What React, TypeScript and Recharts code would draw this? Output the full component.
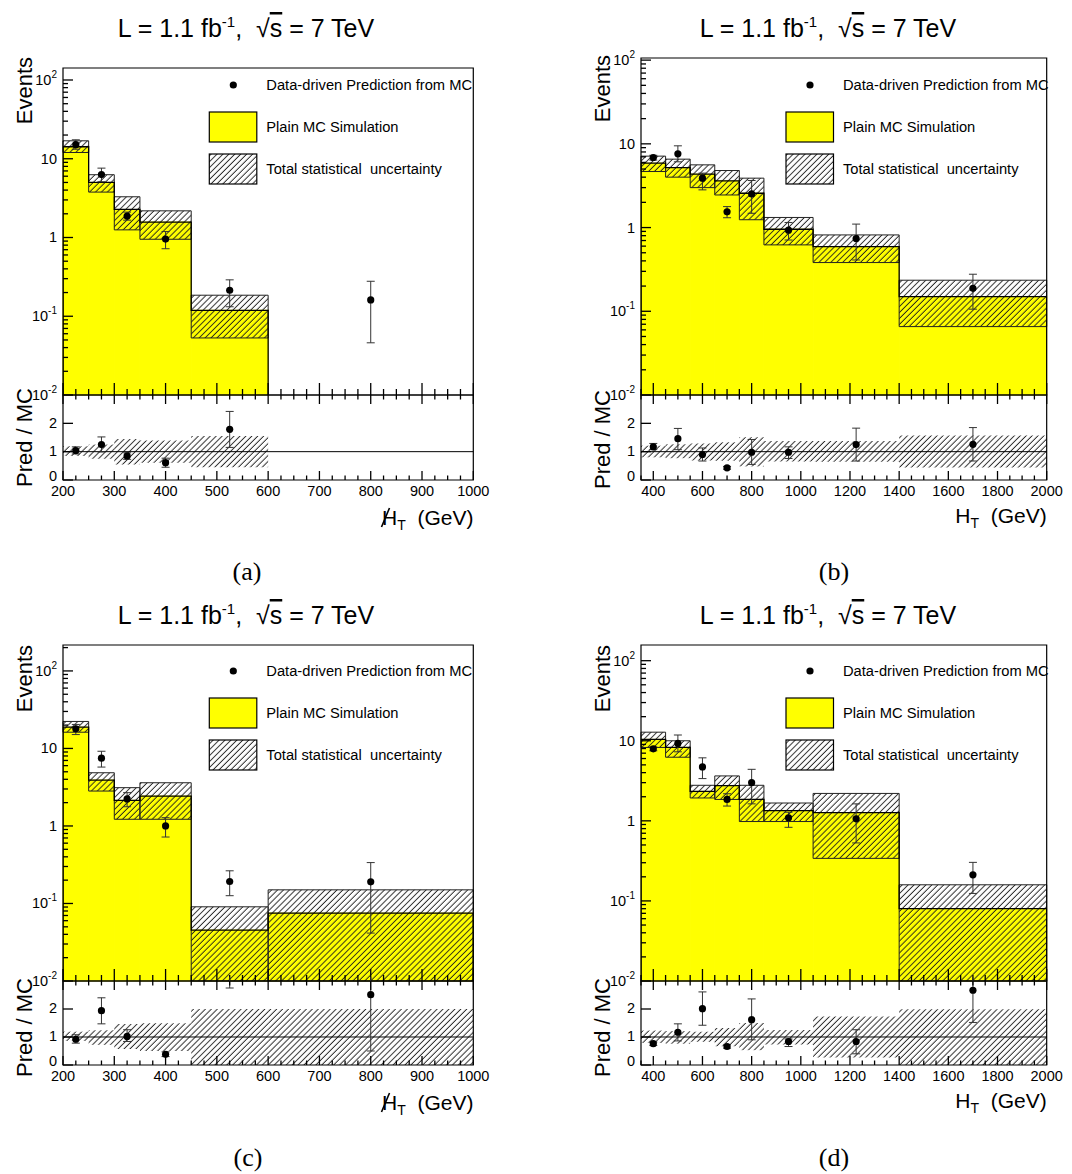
import React from 'react'
import {
  ComposedChart, XAxis, YAxis, Line, Scatter, ErrorBar, ReferenceArea, ReferenceLine,
} from 'recharts'

const FONT = '"Liberation Sans", Arial, Helvetica, sans-serif'
const SERIF = '"Liberation Serif", "DejaVu Serif", serif'
const YELLOW = '#ffff00'
const Y_MIN = 0.01
const Y_AXIS_W = 60
const RIGHT_PAD = 30

// ---------- (a) missing HT, low-HT selection ----------
const aEdges = [200, 250, 300, 350, 450, 600]
const aMC = [14.2, 5.0, 2.27, 1.57, 0.119]
const aLo = [12.0, 3.77, 1.25, 0.95, 0.053]
const aHi = [16.9, 6.27, 3.29, 2.18, 0.185]
const aPredX = [225, 275, 325, 400, 525, 800]
const aPred = [15.1, 6.3, 1.87, 0.955, 0.214, 0.161]
const aPredLo = [13.2, 5.1, 1.66, 0.72, 0.132, 0.046]
const aPredHi = [17.4, 7.6, 2.1, 1.19, 0.29, 0.278]
const aRatioX = [225, 275, 325, 400, 525]
const aRatio = [1.04, 1.25, 0.85, 0.61, 1.79]
const aRatioLo = [0.92, 0.99, 0.73, 0.45, 1.15]
const aRatioHi = [1.17, 1.52, 0.96, 0.77, 2.42]
const aBandLo = [0.85, 0.75, 0.55, 0.61, 0.45]
const aBandHi = [1.19, 1.25, 1.45, 1.39, 1.55]

// ---------- (b) HT, low-MHT selection ----------
const bEdges = [350, 450, 550, 650, 750, 850, 1050, 1400, 2000]
const bMC = [5.87, 5.21, 4.34, 3.61, 2.57, 0.955, 0.593, 0.15]
const bLo = [4.67, 4.0, 3.0, 2.45, 1.24, 0.621, 0.382, 0.0656]
const bHi = [7.13, 6.56, 5.61, 4.8, 3.89, 1.32, 0.817, 0.235]
const bPredX = [400, 500, 600, 700, 800, 950, 1225, 1700]
const bPred = [6.87, 7.59, 3.89, 1.54, 2.52, 0.93, 0.74, 0.188]
const bPredLo = [6.4, 6.1, 2.82, 1.31, 1.48, 0.71, 0.41, 0.106]
const bPredHi = [7.3, 9.47, 4.47, 1.78, 3.65, 1.15, 1.1, 0.277]
const bRatio = [1.17, 1.46, 0.9, 0.43, 0.98, 0.98, 1.25, 1.26]
const bRatioLo = [1.07, 1.07, 0.67, 0.38, 0.55, 0.76, 0.67, 0.67]
const bRatioHi = [1.29, 1.82, 1.13, 0.48, 1.43, 1.17, 1.83, 1.85]
const bBandLo = [0.8, 0.77, 0.69, 0.68, 0.48, 0.65, 0.64, 0.44]
const bBandHi = [1.21, 1.26, 1.29, 1.33, 1.51, 1.38, 1.38, 1.57]

// ---------- (c) missing HT, high-HT selection ----------
const cEdges = [200, 250, 300, 350, 450, 600, 1000]
const cMC = [18.8, 3.91, 2.14, 2.43, 0.0454, 0.0751]
const cLo = [16.2, 2.82, 1.22, 1.22, 0, 0]
const cHi = [22.3, 4.86, 3.12, 3.61, 0.0906, 0.15]
const cPredX = [225, 275, 325, 400, 525, 800]
const cPred = [17.9, 7.5, 2.23, 1.0, 0.192, 0.19]
const cPredLo = [15.1, 5.75, 1.77, 0.72, 0.126, 0.0415]
const cPredHi = [20.4, 9.2, 2.69, 1.28, 0.264, 0.337]
const cRatio = [0.92, 1.94, 1.02, 0.38, 4.2, 2.51]
const cRatioLo = [0.78, 1.47, 0.84, 0.3, 2.75, 0.5]
const cRatioHi = [1.08, 2.4, 1.26, 0.47, 5.8, 4.5]
const cBandLo = [0.86, 0.72, 0.57, 0.5, 0, 0]
const cBandHi = [1.19, 1.24, 1.46, 1.49, 2.0, 2.0]

// ---------- (d) HT, high-MHT selection ----------
const dEdges = [350, 450, 550, 650, 750, 850, 1050, 1400, 2000]
const dMC = [10.4, 8.25, 2.33, 2.75, 1.85, 1.34, 1.27, 0.0801]
const dLo = [8.25, 6.23, 1.93, 1.85, 0.98, 0.98, 0.34, 0]
const dHi = [12.8, 10.0, 2.78, 3.64, 2.78, 1.67, 2.2, 0.159]
const dPredX = [400, 500, 600, 700, 800, 950, 1225, 1700]
const dPred = [7.94, 9.26, 4.72, 1.85, 3.0, 1.09, 1.06, 0.212]
const dPredLo = [7.5, 7.28, 3.37, 1.53, 1.63, 0.83, 0.53, 0.124]
const dPredHi = [8.4, 11.8, 6.12, 2.18, 4.4, 1.28, 1.63, 0.303]
const dRatio = [0.76, 1.17, 2.01, 0.66, 1.62, 0.84, 0.84, 2.67]
const dRatioLo = [0.7, 0.86, 1.42, 0.6, 0.9, 0.66, 0.4, 1.52]
const dRatioHi = [0.82, 1.47, 2.61, 0.72, 2.36, 0.93, 1.26, 3.8]
const dBandLo = [0.79, 0.76, 0.83, 0.67, 0.53, 0.73, 0.27, 0]
const dBandHi = [1.23, 1.21, 1.19, 1.32, 1.5, 1.25, 1.73, 1.99]

const logMajors = [0.01, 0.1, 1, 10, 100]
const ratioTicks = [0, 1, 2]
const legendLabels = ['Data-driven Prediction from MC', 'Plain MC Simulation', 'Total statistical  uncertainty']

type Series = {
  edges: number[]; mc: number[]; lo: number[]; hi: number[]
  predX: number[]; pred: number[]; predLo: number[]; predHi: number[]
  ratioX: number[]; ratio: number[]; ratioLo: number[]; ratioHi: number[]
  bandLo: number[]; bandHi: number[]
}

type Layout = {
  id: string; left: number; right: number; mainTop: number; mainBottom: number; ratioBottom: number
  yTop: number; xDomain: [number, number]; xMajor: number; xMinor: number; met: boolean
  titleX: number; titleY: number; axTitleX: number; eventsY: number; predY: number; xTitleY: number
  legX: number; legY: number; capX: number; capY: number; caption: string
}

const panels: { l: Layout; s: Series }[] = [
  {
    l: { id: 'a', left: 62.7, right: 473, mainTop: 68, mainBottom: 395, ratioBottom: 480, yTop: 142,
      xDomain: [200, 1000], xMajor: 100, xMinor: 25, met: true, titleX: 246, titleY: 37, axTitleX: 32,
      eventsY: 57, predY: 388, xTitleY: 525, legX: 209.3, legY: 85, capX: 247, capY: 580, caption: '(a)' },
    s: { edges: aEdges, mc: aMC, lo: aLo, hi: aHi, predX: aPredX, pred: aPred, predLo: aPredLo, predHi: aPredHi,
      ratioX: aRatioX, ratio: aRatio, ratioLo: aRatioLo, ratioHi: aRatioHi, bandLo: aBandLo, bandHi: aBandHi },
  },
  {
    l: { id: 'b', left: 641, right: 1046.7, mainTop: 58, mainBottom: 395, ratioBottom: 480, yTop: 106,
      xDomain: [350, 2000], xMajor: 200, xMinor: 50, met: false, titleX: 828, titleY: 37, axTitleX: 610,
      eventsY: 55, predY: 390, xTitleY: 523, legX: 786, legY: 85, capX: 834, capY: 580, caption: '(b)' },
    s: { edges: bEdges, mc: bMC, lo: bLo, hi: bHi, predX: bPredX, pred: bPred, predLo: bPredLo, predHi: bPredHi,
      ratioX: bPredX, ratio: bRatio, ratioLo: bRatioLo, ratioHi: bRatioHi, bandLo: bBandLo, bandHi: bBandHi },
  },
  {
    l: { id: 'c', left: 62.7, right: 473, mainTop: 645, mainBottom: 981, ratioBottom: 1065, yTop: 216,
      xDomain: [200, 1000], xMajor: 100, xMinor: 25, met: true, titleX: 246, titleY: 624, axTitleX: 32,
      eventsY: 645, predY: 978, xTitleY: 1110, legX: 209.3, legY: 671, capX: 248, capY: 1166, caption: '(c)' },
    s: { edges: cEdges, mc: cMC, lo: cLo, hi: cHi, predX: cPredX, pred: cPred, predLo: cPredLo, predHi: cPredHi,
      ratioX: cPredX, ratio: cRatio, ratioLo: cRatioLo, ratioHi: cRatioHi, bandLo: cBandLo, bandHi: cBandHi },
  },
  {
    l: { id: 'd', left: 641, right: 1046.7, mainTop: 645, mainBottom: 981, ratioBottom: 1065, yTop: 157,
      xDomain: [350, 2000], xMajor: 200, xMinor: 50, met: false, titleX: 828, titleY: 624, axTitleX: 610,
      eventsY: 645, predY: 978, xTitleY: 1108, legX: 786, legY: 671, capX: 834, capY: 1166, caption: '(d)' },
    s: { edges: dEdges, mc: dMC, lo: dLo, hi: dHi, predX: dPredX, pred: dPred, predLo: dPredLo, predHi: dPredHi,
      ratioX: dPredX, ratio: dRatio, ratioLo: dRatioLo, ratioHi: dRatioHi, bandLo: dBandLo, bandHi: dBandHi },
  },
]

const points = (xs: number[], ys: number[], los: number[], his: number[]) =>
  xs.map((x, i) => ({ x, y: ys[i], err: [ys[i] - los[i], his[i] - ys[i]] }))

// outline of the MC histogram, drawn as a step line through the bin edges
const stepOf = (edges: number[], mc: number[]) => {
  const pts = [{ x: edges[0], y: Y_MIN }]
  mc.forEach((v, i) => pts.push({ x: edges[i], y: v }))
  pts.push({ x: edges[edges.length - 1], y: mc[mc.length - 1] })
  pts.push({ x: edges[edges.length - 1], y: Y_MIN })
  return pts
}

const logTicks = (top: number) => {
  const t: number[] = []
  logMajors.forEach(m => { for (let k = 1; k < 10; k++) if (m * k <= top * 1.0001) t.push(m * k) })
  return t
}

const linTicks = (dom: [number, number], step: number) => {
  const t: number[] = []
  for (let v = dom[0]; v <= dom[1] + 1e-6; v += step) t.push(v)
  return t
}

const Hatch = ({ id }: { id: string }) => (
  <pattern id={id} patternUnits="userSpaceOnUse" width={4.2} height={4.2} patternTransform="rotate(45)">
    <line x1={2} y1={0} x2={2} y2={4.2} stroke="#1a1a1a" strokeWidth={0.9} />
  </pattern>
)

const Dot = (p: any) => <circle cx={p.cx} cy={p.cy} r={3.6} fill="#000" />

const TICK = { stroke: '#000', strokeWidth: 1.3 }

const YLogTick = (p: any) => {
  const v = p.payload.value
  const lg = Math.log10(v)
  const major = Math.abs(lg - Math.round(lg)) < 1e-6
  const e = Math.round(lg)
  return (
    <g>
      <line x1={p.x} x2={p.x + (major ? 10 : 5)} y1={p.y} y2={p.y} {...TICK} />
      {major && (
        <text x={p.x - 6} y={p.y + 5} textAnchor="end" fontSize={14.5} fontFamily={FONT} fill="#000">
          {e === 0 ? '1' : '10'}
          {e !== 0 && e !== 1 && <tspan dy={-7} fontSize={10}>{String(e)}</tspan>}
        </text>
      )}
    </g>
  )
}

// the "0" label sits a little higher, as in the original, to clear the x labels
const RatioYTick = (p: any) => (
  <g>
    <line x1={p.x} x2={p.x + 10} y1={p.y} y2={p.y} {...TICK} />
    <text x={p.x - 6} y={p.y + (p.payload.value === 0 ? 1 : 4.5)} textAnchor="end" fontSize={14.5}
      fontFamily={FONT} fill="#000">
      {p.payload.value}
    </text>
  </g>
)

const makeXTick = (major: number, len: number, plotH: number, labels: boolean) => (p: any) => {
  const v = p.payload.value
  const isMajor = Math.abs(v / major - Math.round(v / major)) < 1e-6
  const l = isMajor ? len : len / 2
  return (
    <g>
      <line x1={p.x} x2={p.x} y1={p.y} y2={p.y - l} {...TICK} />
      {plotH > 0 && <line x1={p.x} x2={p.x} y1={p.y - plotH} y2={p.y - plotH + l} {...TICK} />}
      {labels && isMajor && (
        <text x={p.x} y={p.y + 16.5} textAnchor="middle" fontSize={14.5} fontFamily={FONT} fill="#000">{v}</text>
      )}
    </g>
  )
}

function Panel({ l, s }: { l: Layout; s: Series }) {
  const plotW = l.right - l.left
  const mainH = l.mainBottom - l.mainTop
  const ratioH = l.ratioBottom - l.mainBottom
  const chartW = Y_AXIS_W + plotW + RIGHT_PAD
  const xTicks = linTicks(l.xDomain, l.xMinor)
  const hm = `hatch-main-${l.id}`
  const hr = `hatch-ratio-${l.id}`
  const bins = s.mc.map((v, i) => ({ x1: s.edges[i], x2: s.edges[i + 1], mc: v, lo: s.lo[i], hi: s.hi[i] }))
  const rbins = s.bandLo.map((v, i) => ({ x1: s.edges[i], x2: s.edges[i + 1], lo: v, hi: s.bandHi[i] }))

  return (
    <>
      <div style={{ position: 'absolute', left: l.left - Y_AXIS_W, top: l.mainTop - 12 }}>
        <ComposedChart width={chartW} height={12 + mainH + 10} margin={{ top: 12, right: RIGHT_PAD, bottom: 0, left: 0 }}>
          <defs><Hatch id={hm} /></defs>
          <XAxis type="number" dataKey="x" domain={l.xDomain} allowDataOverflow ticks={xTicks} interval={0}
            height={10} tickSize={0} tickMargin={0} axisLine={false} tickLine={false}
            tick={makeXTick(l.xMajor, 12, 0, false)} />
          <YAxis type="number" scale="log" domain={[Y_MIN, l.yTop]} allowDataOverflow ticks={logTicks(l.yTop)}
            interval={0} width={Y_AXIS_W} tickSize={0} tickMargin={0} axisLine={false} tickLine={false} tick={YLogTick} />
          {bins.map((b, i) => (
            <ReferenceArea key={`y${i}`} x1={b.x1} x2={b.x2} y1={Y_MIN} y2={b.mc}
              fill={YELLOW} fillOpacity={1} stroke={YELLOW} strokeWidth={1} />
          ))}
          {bins.map((b, i) => (
            <ReferenceArea key={`h${i}`} x1={b.x1} x2={b.x2} y1={Math.max(b.lo, Y_MIN)} y2={b.hi}
              fill={`url(#${hm})`} fillOpacity={1} stroke="#222" strokeWidth={1} />
          ))}
          <Line data={stepOf(s.edges, s.mc)} dataKey="y" type="stepAfter" stroke="#000" strokeWidth={1.3}
            dot={false} activeDot={false} isAnimationActive={false} />
          <Scatter data={points(s.predX, s.pred, s.predLo, s.predHi)} dataKey="y" fill="#000" shape={Dot}
            isAnimationActive={false}>
            <ErrorBar dataKey="err" direction="y" width={4} stroke="#333" strokeWidth={1} />
          </Scatter>
          <ReferenceArea x1={l.xDomain[0]} x2={l.xDomain[1]} y1={Y_MIN} y2={l.yTop}
            fill="none" stroke="#000" strokeWidth={1.2} />
        </ComposedChart>
      </div>

      <div style={{ position: 'absolute', left: l.left - Y_AXIS_W, top: l.mainBottom - 4 }}>
        <ComposedChart width={chartW} height={4 + ratioH + 24} margin={{ top: 4, right: RIGHT_PAD, bottom: 0, left: 0 }}>
          <defs><Hatch id={hr} /></defs>
          <XAxis type="number" dataKey="x" domain={l.xDomain} allowDataOverflow ticks={xTicks} interval={0}
            height={24} tickSize={0} tickMargin={0} axisLine={false} tickLine={false}
            tick={makeXTick(l.xMajor, 9, ratioH, true)} />
          <YAxis type="number" domain={[0, 3]} allowDataOverflow ticks={ratioTicks} interval={0}
            width={Y_AXIS_W} tickSize={0} tickMargin={0} axisLine={false} tickLine={false} tick={RatioYTick} />
          {rbins.map((b, i) => (
            <ReferenceArea key={`r${i}`} x1={b.x1} x2={b.x2} y1={b.lo} y2={b.hi}
              fill={`url(#${hr})`} fillOpacity={1} stroke="none" />
          ))}
          <ReferenceLine y={1} stroke="#000" strokeWidth={1} />
          <Scatter data={points(s.ratioX, s.ratio, s.ratioLo, s.ratioHi)} dataKey="y" fill="#000" shape={Dot}
            isAnimationActive={false}>
            <ErrorBar dataKey="err" direction="y" width={4} stroke="#333" strokeWidth={1} />
          </Scatter>
          <ReferenceArea x1={l.xDomain[0]} x2={l.xDomain[1]} y1={0} y2={3}
            fill="none" stroke="#000" strokeWidth={1.2} />
        </ComposedChart>
      </div>
    </>
  )
}

function PanelText({ l }: { l: Layout }) {
  const lx = l.legX
  const ly = l.legY
  const hx = l.right - 91
  return (
    <g fontFamily={FONT} fill="#000">
      <text x={l.titleX} y={l.titleY} textAnchor="middle" fontSize={25} style={{ whiteSpace: 'pre' }}>
        {'L = 1.1 fb'}<tspan dy={-10} fontSize={15}>-1</tspan><tspan dy={10}>{',  \u221a'}</tspan>
        <tspan textDecoration="overline">s</tspan><tspan>{' = 7 TeV'}</tspan>
      </text>

      <text x={l.axTitleX} y={l.eventsY} textAnchor="end" fontSize={22}
        transform={`rotate(-90 ${l.axTitleX} ${l.eventsY})`}>Events</text>
      <text x={l.axTitleX} y={l.predY} textAnchor="end" fontSize={22}
        transform={`rotate(-90 ${l.axTitleX} ${l.predY})`}>Pred / MC</text>

      {l.met ? (
        <>
          <text x={hx} y={l.xTitleY} fontSize={21} style={{ whiteSpace: 'pre' }}>
            H<tspan dy={5} fontSize={14}>T</tspan><tspan dy={-5}>{'  (GeV)'}</tspan>
          </text>
          <line x1={hx - 0.5} y1={l.xTitleY + 2} x2={hx + 7.5} y2={l.xTitleY - 17} stroke="#000" strokeWidth={1.6} />
        </>
      ) : (
        <text x={l.right} y={l.xTitleY} textAnchor="end" fontSize={21} style={{ whiteSpace: 'pre' }}>
          H<tspan dy={5} fontSize={14}>T</tspan><tspan dy={-5}>{'  (GeV)'}</tspan>
        </text>
      )}

      {/* legend */}
      <circle cx={lx + 24} cy={ly} r={3.6} fill="#000" />
      <rect x={lx} y={ly + 27} width={47.5} height={30} fill={YELLOW} stroke="#000" strokeWidth={1.2} />
      <rect x={lx} y={ly + 69} width={47.5} height={30} fill={`url(#hatch-leg-${l.id})`} stroke="#000" strokeWidth={1.2} />
      {legendLabels.map((t, i) => (
        <text key={i} x={lx + 57} y={ly + i * 42 + 5} fontSize={14.7} style={{ whiteSpace: 'pre' }}>{t}</text>
      ))}

      <text x={l.capX} y={l.capY} textAnchor="middle" fontSize={26} fontFamily={SERIF}>{l.caption}</text>
    </g>
  )
}

export default function App() {
  return (
    <div style={{ position: 'absolute', left: 0, top: 0, width: 1072, height: 1174, background: '#fff', overflow: 'hidden' }}>
      {panels.map(p => <Panel key={p.l.id} l={p.l} s={p.s} />)}
      <svg width={1072} height={1174} style={{ position: 'absolute', left: 0, top: 0, pointerEvents: 'none' }}>
        <defs>{panels.map(p => <Hatch key={p.l.id} id={`hatch-leg-${p.l.id}`} />)}</defs>
        {panels.map(p => <PanelText key={p.l.id} l={p.l} />)}
      </svg>
    </div>
  )
}
